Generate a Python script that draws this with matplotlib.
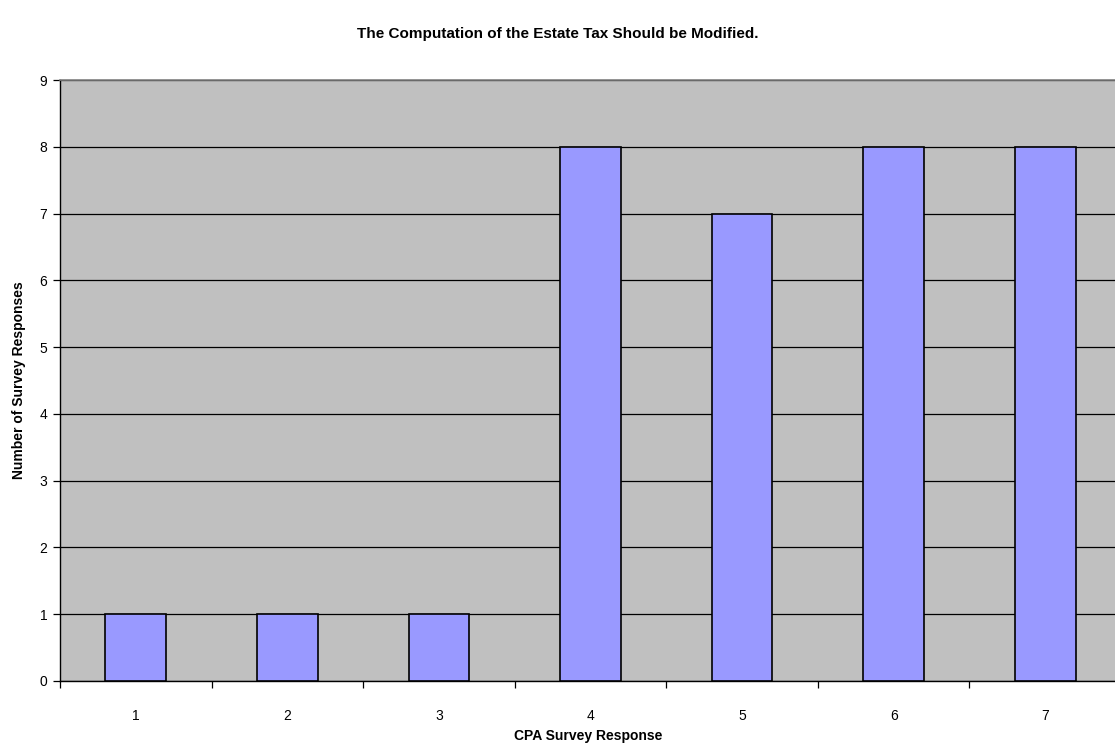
import matplotlib
matplotlib.use("Agg")
import matplotlib.pyplot as plt
from matplotlib.ticker import FixedLocator, NullFormatter

plt.rcParams['font.family'] = ['Liberation Sans', 'DejaVu Sans']

categories = ["1", "2", "3", "4", "5", "6", "7"]
responses = [1, 1, 1, 8, 7, 8, 8]
y_ticks = list(range(0, 10))

W, H = 1115, 744
fig = plt.figure(figsize=(W / 100, H / 100), dpi=100)
left, right, top, bottom = 60, 1121, 80, 681
ax = fig.add_axes([left / W, 1 - bottom / H, (right - left) / W, (bottom - top) / H])

ax.set_facecolor("#c0c0c0")
x = list(range(len(categories)))
ax.bar(x, responses, width=0.4, color="#9999ff", edgecolor="black", linewidth=1.2, zorder=3)

ax.set_xlim(-0.5, len(categories) - 0.5)
ax.set_ylim(0, 9)
ax.set_yticks(y_ticks)
ax.yaxis.grid(True, color="black", linewidth=0.9, zorder=1)
ax.set_axisbelow(True)

ax.set_xticks(x)
ax.set_xticklabels(categories)
ax.xaxis.set_minor_locator(FixedLocator([i - 0.5 for i in range(len(categories) + 1)]))
ax.xaxis.set_minor_formatter(NullFormatter())
ax.tick_params(axis="x", which="major", length=0, pad=20, labelsize=10)
ax.tick_params(axis="x", which="minor", length=5, width=0.9, color="black")
ax.tick_params(axis="y", length=5, width=0.9, labelsize=10, pad=4)

ax.spines["right"].set_visible(False)
ax.spines["top"].set_color("#808080")
ax.spines["top"].set_linewidth(1.2)
ax.spines["left"].set_linewidth(1.0)
ax.spines["bottom"].set_linewidth(1.0)

ax.set_ylabel("Number of Survey Responses", fontsize=10, fontweight="bold", labelpad=10)
fig.text(588 / W, 1 - 736 / H, "CPA Survey Response",
         ha="center", va="center", fontsize=10, fontweight="bold")
fig.text(0.5, 1 - 34 / H, "The Computation of the Estate Tax Should be Modified.",
         ha="center", va="center", fontsize=11, fontweight="bold")

fig.savefig("out.png", dpi=100)
